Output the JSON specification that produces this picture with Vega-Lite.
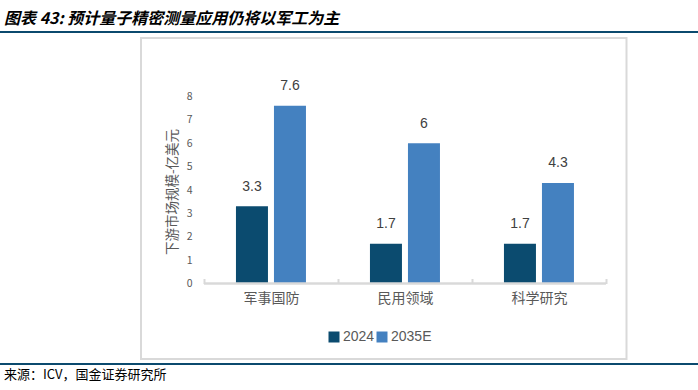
{
  "$schema": "https://vega.github.io/schema/vega-lite/v6.json",
  "padding": {"top": 10, "left": 0, "right": 0, "bottom": 0},
  "background": "white",
  "spacing": 3,
  "config": {"font": "Noto Sans CJK SC", "view": {"stroke": null}},
  "datasets": {
    "d": [
      {"cat": "军事国防", "year": "2024", "value": 3.3},
      {"cat": "军事国防", "year": "2035E", "value": 7.6},
      {"cat": "民用领域", "year": "2024", "value": 1.7},
      {"cat": "民用领域", "year": "2035E", "value": 6},
      {"cat": "科学研究", "year": "2024", "value": 1.7},
      {"cat": "科学研究", "year": "2035E", "value": 4.3}
    ],
    "empty": []
  },
  "vconcat": [
    {
      "width": 698,
      "height": 0.01,
      "view": {"stroke": "#0b4a6e", "strokeWidth": 2},
      "title": {"text": "图表 43: 预计量子精密测量应用仍将以军工为主", "anchor": "start", "frame": "group", "fontSize": 16, "fontWeight": "bold", "fontStyle": "italic", "color": "#000000", "offset": 5, "dx": 3},
      "data": {"name": "empty"},
      "mark": "point",
      "encoding": {}
    },
    {
      "spacing": 0,
      "resolve": {"legend": {"color": "independent"}, "scale": {"color": "independent"}},
      "hconcat": [
        {"width": 139, "height": 321, "data": {"name": "empty"}, "mark": "point", "encoding": {}},
        {
          "width": 485.5,
          "height": 321,
          "view": {"stroke": "#d9d9d9", "strokeWidth": 2},
          "data": {"name": "d"},
          "encoding": {
            "x": {
              "field": "cat", "type": "nominal", "sort": null,
              "scale": {"paddingInner": 0, "paddingOuter": 0.3116, "align": 0.754},
              "axis": {"title": null, "orient": "bottom", "offset": -75.5, "domain": false, "ticks": true, "tickBand": "extent", "tickSize": -5, "tickColor": "#d9d9d9", "tickWidth": 2, "labelAngle": 0, "labelFontSize": 14, "labelColor": "#595959", "labelPadding": 13, "grid": false}
            }
          },
          "layer": [
            {
              "mark": {"type": "bar"},
              "encoding": {
                "xOffset": {"field": "year", "type": "nominal", "scale": {"paddingInner": 0.158, "paddingOuter": 0.842}},
                "y": {
                  "field": "value", "type": "quantitative",
                  "scale": {"domain": [-3.23, 10.503], "nice": false, "zero": false},
                  "axis": {"orient": "left", "offset": -63, "values": [0, 1, 2, 3, 4, 5, 6, 7, 8], "domain": false, "ticks": false, "grid": false, "labelFontSize": 10.5, "labelColor": "#595959", "labelPadding": 12, "title": "下游市场规模-亿美元", "titleFontSize": 13.5, "titleFontWeight": "normal", "titleColor": "#595959", "titlePadding": 7, "titleY": 153.5}
                },
                "color": {
                  "field": "year", "type": "nominal",
                  "scale": {"domain": ["2024", "2035E"], "range": ["#0b4b6f", "#4481c0"]},
                  "legend": {"title": null, "orient": "none", "legendX": 186, "legendY": 292, "direction": "horizontal", "symbolType": "square", "symbolSize": 121, "symbolStrokeWidth": 0, "labelFontSize": 14, "labelColor": "#595959", "labelFont": "Liberation Sans", "labelOffset": 2, "columnPadding": 0, "gridAlign": "none", "padding": 0}
                }
              }
            },
            {
              "mark": {"type": "text", "baseline": "middle", "dy": -19.5, "fontSize": 14, "font": "Liberation Sans", "color": "#404040"},
              "encoding": {
                "xOffset": {"field": "year", "type": "nominal"},
                "y": {"field": "value", "type": "quantitative"},
                "text": {"field": "value", "type": "quantitative", "format": ".2~f"}
              }
            },
            {
              "mark": {"type": "bar", "fillOpacity": 0, "stroke": "#d9d9d9", "strokeWidth": 2, "width": {"band": 1}},
              "encoding": {
                "y": {"datum": 0, "type": "quantitative"},
                "y2": {"datum": 0}
              }
            }
          ]
        }
      ]
    },
    {
      "width": 698,
      "height": 0.01,
      "view": {"stroke": "#0b4a6e", "strokeWidth": 2},
      "title": {"text": "来源：ICV，国金证券研究所", "orient": "bottom", "anchor": "start", "frame": "group", "fontSize": 13, "fontWeight": "normal", "color": "#000000", "offset": 5, "dx": 3},
      "data": {"name": "empty"},
      "mark": "point",
      "encoding": {}
    }
  ]
}
